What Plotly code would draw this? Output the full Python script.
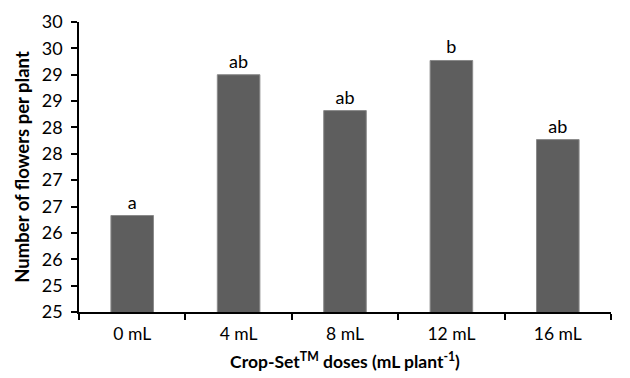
import plotly.graph_objects as go

doses = ["0 mL", "4 mL", "8 mL", "12 mL", "16 mL"]
flowers = [26.33, 29.0, 28.32, 29.27, 27.77]
letters = ["a", "ab", "ab", "b", "ab"]
ytick_vals = [24.5, 25, 25.5, 26, 26.5, 27, 27.5, 28, 28.5, 29, 29.5, 30]
ytick_labels = ["25", "25", "26", "26", "27", "27", "28", "28", "29", "29", "30", "30"]

FONT = "Lato"

fig = go.Figure()
fig.add_trace(go.Bar(
    x=doses, y=flowers, text=letters, textposition="outside",
    textfont=dict(family=FONT, size=18, color="#000000"),
    marker=dict(color="#5e5e5e", line=dict(color="#8a8a8a", width=1)),
    cliponaxis=False, width=0.4,
))

# page body has an 8px default margin; margins below compensate for it
fig.update_layout(
    width=630, height=378,
    margin=dict(l=71, r=27, t=14, b=74),
    paper_bgcolor="white", plot_bgcolor="white",
    showlegend=False,
    font=dict(family=FONT, size=17, color="#000000"),
)
fig.update_xaxes(
    showline=True, linecolor="#000000", linewidth=1.5,
    ticks="outside", tickson="boundaries", ticklen=6, tickcolor="#000000", tickwidth=1.5,
    tickfont=dict(family=FONT, size=17.5), ticklabelstandoff=5,
    title=dict(text="<b>Crop-Set<sup>TM</sup> doses (mL plant<sup>-1</sup>)</b>",
               font=dict(family=FONT, size=17.5), standoff=13),
    showgrid=False, automargin=False,
)
fig.update_yaxes(
    range=[24.5, 30], tickvals=ytick_vals, ticktext=ytick_labels,
    showline=True, linecolor="#000000", linewidth=1.5,
    ticks="outside", ticklen=6, tickcolor="#000000", tickwidth=1.5,
    tickfont=dict(family=FONT, size=18), ticklabelstandoff=5,
    title=dict(text="<b>Number of flowers per plant</b>",
               font=dict(family=FONT, size=18.5), standoff=7),
    showgrid=False, zeroline=False, automargin=False,
)

fig.write_html("out.html")
